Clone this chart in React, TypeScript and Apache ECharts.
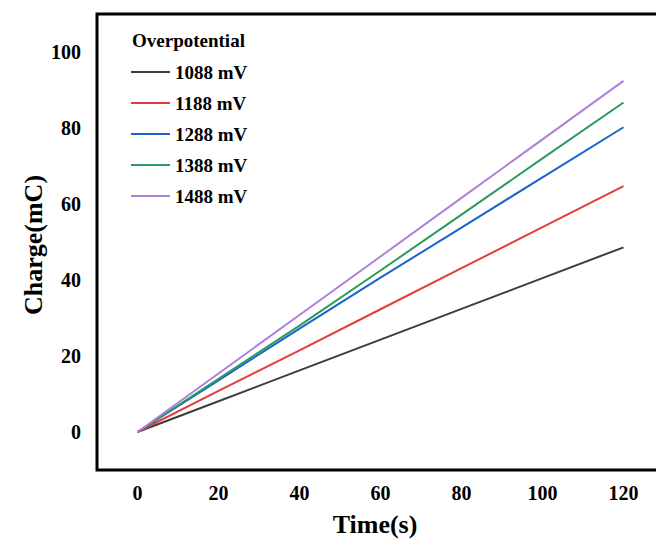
import React, { useEffect, useRef } from "react";
import * as echarts from "echarts";

const times = [0, 20, 40, 60, 80, 100, 120];
const seriesNames = ["1088 mV", "1188 mV", "1288 mV", "1388 mV", "1488 mV"];
const charge1088 = [0, 8.1, 16.2, 24.3, 32.4, 40.5, 48.6];
const charge1188 = [0, 10.8, 21.5, 32.3, 43.1, 53.9, 64.7];
const charge1288 = [0, 13.6, 27.2, 40.6, 53.8, 67.0, 80.2];
const charge1388 = [0, 14.0, 28.0, 42.5, 57.2, 72.0, 86.7];
const charge1488 = [0, 15.4, 30.8, 46.2, 61.6, 77.0, 92.4];
const seriesColors = ["#3d3d3d", "#e63b3b", "#1a63cc", "#2b9a5e", "#ad7fdc"];
const xTicks = [0, 20, 40, 60, 80, 100, 120];
const yTicks = [0, 20, 40, 60, 80, 100];

const FONT = "'Liberation Serif', 'Times New Roman', serif";

export default function App() {
  const ref = useRef<HTMLDivElement>(null);
  useEffect(() => {
    if (!ref.current) return;
    const chart = echarts.init(ref.current, null, { renderer: "svg" });
    const all = [charge1088, charge1188, charge1288, charge1388, charge1488];
    chart.setOption({
      animation: false,
      backgroundColor: "#ffffff",
      grid: {
        left: 97,
        top: 14,
        width: 567,
        height: 456,
        show: true,
        borderColor: "#000",
        borderWidth: 3,
        backgroundColor: "transparent",
      },
      xAxis: {
        type: "value",
        min: -10,
        max: 130,
        axisLine: { show: false },
        axisTick: { show: false },
        splitLine: { show: false },
        axisLabel: {
          customValues: xTicks,
          fontFamily: FONT,
          fontWeight: "bold",
          fontSize: 20,
          color: "#000",
          margin: 13,
        },
      },
      yAxis: {
        type: "value",
        min: -10,
        max: 110,
        axisLine: { show: false },
        axisTick: { show: false },
        splitLine: { show: false },
        axisLabel: {
          customValues: yTicks,
          fontFamily: FONT,
          fontWeight: "bold",
          fontSize: 20,
          color: "#000",
          margin: 16,
        },
      },
      legend: {
        orient: "vertical",
        left: 131,
        top: 62,
        padding: 0,
        icon: "rect",
        itemWidth: 39,
        itemHeight: 2,
        itemGap: 11,
        data: seriesNames,
        textStyle: {
          fontFamily: FONT,
          fontWeight: "bold",
          fontSize: 19,
          lineHeight: 20,
          color: "#000",
          padding: [0, 0, 0, 0],
        },
      },
      graphic: [
        {
          type: "text",
          left: 132,
          top: 31,
          style: {
            text: "Overpotential",
            fontFamily: FONT,
            fontWeight: "bold",
            fontSize: 19,
            fill: "#000",
          },
        },
        {
          type: "text",
          x: 375,
          y: 524,
          style: {
            text: "Time(s)",
            fontFamily: FONT,
            fontWeight: "bold",
            fontSize: 26,
            fill: "#000",
            align: "center",
            verticalAlign: "middle",
          },
        },
        {
          type: "text",
          x: 33,
          y: 245,
          rotation: Math.PI / 2,
          style: {
            text: "Charge(mC)",
            fontFamily: FONT,
            fontWeight: "bold",
            fontSize: 26,
            fill: "#000",
            align: "center",
            verticalAlign: "middle",
          },
        },
      ],
      series: seriesNames.map((name, i) => ({
        name,
        type: "line",
        symbol: "none",
        data: times.map((t, j) => [t, all[i][j]]),
        lineStyle: { color: seriesColors[i], width: 2 },
        itemStyle: { color: seriesColors[i] },
      })),
    });
    return () => chart.dispose();
  }, []);
  return (
    <div style={{ position: "absolute", left: 0, top: 0, width: 656, height: 539, overflow: "hidden" }}>
      <div ref={ref} style={{ width: 690, height: 539 }} />
    </div>
  );
}
